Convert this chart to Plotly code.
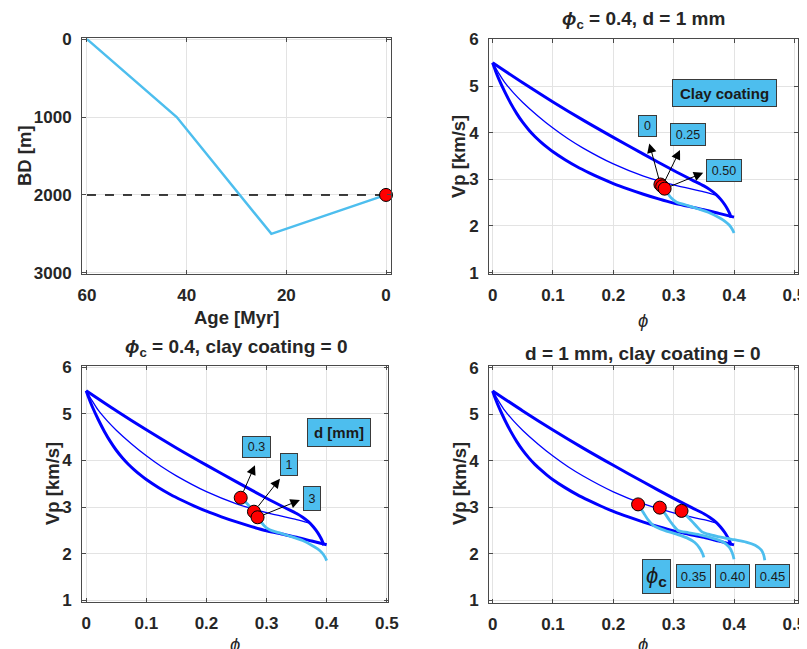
import plotly.graph_objects as go

# The page body has an 8px margin, so the figure is sized to the remaining viewport
OFF = 8
W, H = 807 - OFF, 649 - OFF
FONT = "Liberation Sans"
TXT = "#262626"
CYAN = "#4DBEEE"
BLUE = "#0000FF"

# ---------------- Panel 1: burial history ----------------
age = [60, 42, 23, 0]
bd = [0, 1000, 2500, 2000]
ref_age = [60, 0]
ref_bd = [2000, 2000]
now_age = [0]
now_bd = [2000]
age_ticks = [0, 20, 40, 60]
age_ticktext = ["0", "20", "40", "60"]
bd_ticks = [0, 1000, 2000, 3000]
bd_ticktext = ["0", "1000", "2000", "3000"]

# ---------------- Rock-physics bounds (shared) ----------------
phi_upper = [0, 0.05, 0.1, 0.15, 0.2, 0.25, 0.3, 0.33, 0.35, 0.36, 0.37, 0.378, 0.385, 0.39, 0.393, 0.395]
vp_upper = [5.5, 5.07, 4.66, 4.27, 3.90, 3.54, 3.19, 2.99, 2.86, 2.78, 2.68, 2.57, 2.45, 2.34, 2.26, 2.18]

phi_lower = [0, 0.005, 0.01, 0.02, 0.03, 0.04, 0.05, 0.06, 0.07, 0.08, 0.09, 0.1, 0.12, 0.14, 0.16,
             0.18, 0.2, 0.225, 0.25, 0.275, 0.3, 0.325, 0.35, 0.375, 0.4]
vp_lower = [5.5, 5.32, 5.16, 4.88, 4.63, 4.41, 4.22, 4.06, 3.92, 3.80, 3.69, 3.59, 3.42, 3.27, 3.14,
            3.02, 2.91, 2.79, 2.68, 2.58, 2.49, 2.42, 2.35, 2.27, 2.19]

phi_mid = [0, 0.005, 0.01, 0.02, 0.035, 0.05, 0.075, 0.1, 0.125, 0.15, 0.2, 0.25, 0.3, 0.35, 0.37]
vp_mid = [5.5, 5.39, 5.28, 5.08, 4.85, 4.65, 4.36, 4.1, 3.87, 3.67, 3.33, 3.07, 2.88, 2.73, 2.66]

# ---------------- Panel 2: clay coating ----------------
clay_labels = ["0", "0.25", "0.50"]
clay_phi = [0.278, 0.281, 0.285]
clay_vp = [2.89, 2.85, 2.80]
cyan2_phi = [0.285, 0.29, 0.296, 0.305, 0.32, 0.34, 0.36, 0.375, 0.385, 0.392, 0.397, 0.4]
cyan2_vp = [2.80, 2.70, 2.60, 2.51, 2.45, 2.37, 2.28, 2.18, 2.10, 2.02, 1.93, 1.85]

# ---------------- Panel 3: grain size ----------------
d_labels = ["0.3", "1", "3"]
d_phi = [0.257, 0.279, 0.285]
d_vp = [3.20, 2.90, 2.78]
cyan3_phi = [0.257, 0.267, 0.275, 0.279, 0.285, 0.29, 0.296, 0.305, 0.32, 0.34, 0.36, 0.375, 0.385, 0.392, 0.397, 0.4]
cyan3_vp = [3.20, 3.08, 2.96, 2.90, 2.80, 2.70, 2.60, 2.51, 2.45, 2.37, 2.28, 2.18, 2.10, 2.02, 1.93, 1.85]

# ---------------- Panel 4: critical porosity ----------------
phic_labels = ["0.35", "0.40", "0.45"]
phic_phi = [0.241, 0.277, 0.313]
phic_vp = [3.06, 2.99, 2.92]
c35_phi = [0.241, 0.25, 0.258, 0.266, 0.285, 0.305, 0.322, 0.335, 0.343, 0.348, 0.350]
c35_vp = [3.06, 2.88, 2.72, 2.61, 2.50, 2.42, 2.34, 2.24, 2.12, 2.00, 1.92]
c40_phi = [0.277, 0.285, 0.293, 0.30, 0.307, 0.325, 0.345, 0.365, 0.382, 0.392, 0.397, 0.40]
c40_vp = [2.99, 2.87, 2.72, 2.60, 2.50, 2.45, 2.40, 2.33, 2.25, 2.14, 2.02, 1.88]
c45_phi = [0.313, 0.32, 0.33, 0.34, 0.347, 0.36, 0.38, 0.40, 0.42, 0.435, 0.445, 0.449, 0.451]
c45_vp = [2.92, 2.83, 2.70, 2.56, 2.47, 2.41, 2.35, 2.30, 2.25, 2.18, 2.08, 1.98, 1.86]

phi_ticks = [0, 0.1, 0.2, 0.3, 0.4, 0.5]
phi_ticktext = ["0", "0.1", "0.2", "0.3", "0.4", "0.5"]
vp_ticks = [1, 2, 3, 4, 5, 6]
vp_ticktext = ["1", "2", "3", "4", "5", "6"]


def px(x):
    return (x - OFF) / W


def py(y):
    return 1 - (y - OFF) / H


def bold(lst):
    return [f"<b>{t}</b>" for t in lst]


fig = go.Figure()

# Panel 1
fig.add_trace(go.Scatter(x=ref_age, y=ref_bd, mode="lines", line=dict(color="black", width=1.5, dash="dash"),
                         xaxis="x", yaxis="y"))
fig.add_trace(go.Scatter(x=age, y=bd, mode="lines", line=dict(color=CYAN, width=2.5), xaxis="x", yaxis="y"))
fig.add_trace(go.Scatter(x=now_age, y=now_bd, mode="markers", cliponaxis=False,
                         marker=dict(color="red", size=13, line=dict(color="black", width=1)),
                         xaxis="x", yaxis="y"))

SPL = dict(shape="spline", smoothing=0.8)


def add_bounds(xa, ya):
    fig.add_trace(go.Scatter(x=phi_lower, y=vp_lower, mode="lines", line=dict(color=BLUE, width=3, **SPL),
                             xaxis=xa, yaxis=ya))
    fig.add_trace(go.Scatter(x=phi_upper, y=vp_upper, mode="lines", line=dict(color=BLUE, width=3, **SPL),
                             xaxis=xa, yaxis=ya))
    fig.add_trace(go.Scatter(x=phi_mid, y=vp_mid, mode="lines", line=dict(color=BLUE, width=1.3, **SPL),
                             xaxis=xa, yaxis=ya))


def add_cyan(xs, ys, xa, ya):
    fig.add_trace(go.Scatter(x=xs, y=ys, mode="lines", line=dict(color=CYAN, width=2.8, **SPL),
                             xaxis=xa, yaxis=ya))


def add_markers(xs, ys, xa, ya):
    fig.add_trace(go.Scatter(x=xs, y=ys, mode="markers",
                             marker=dict(color="red", size=13, line=dict(color="black", width=1)),
                             xaxis=xa, yaxis=ya))


# Panel 2
add_bounds("x2", "y2")
add_cyan(cyan2_phi, cyan2_vp, "x2", "y2")
add_markers(clay_phi, clay_vp, "x2", "y2")
# Panel 3
add_bounds("x3", "y3")
add_cyan(cyan3_phi, cyan3_vp, "x3", "y3")
add_markers(d_phi, d_vp, "x3", "y3")
# Panel 4
add_bounds("x4", "y4")
add_cyan(c35_phi, c35_vp, "x4", "y4")
add_cyan(c40_phi, c40_vp, "x4", "y4")
add_cyan(c45_phi, c45_vp, "x4", "y4")
add_markers(phic_phi, phic_vp, "x4", "y4")

tickfont = dict(family=FONT, size=17, color=TXT)


def axis_common():
    return dict(showline=True, mirror="allticks", linecolor="#4A4A4A", linewidth=1,
                ticks="inside", ticklen=4, tickcolor="#4A4A4A", showgrid=True,
                gridcolor="#E3E3E3", gridwidth=1, zeroline=False, tickfont=tickfont,
                ticklabelstandoff=6, automargin=False)


boxes = {
    "p1": (82, 391, 38, 274),
    "p2": (489, 798, 39, 274),
    "p3": (82, 388, 366, 602),
    "p4": (489, 798, 366, 603),
}


def dom(b):
    l, r, t, bt = b
    return [px(l), px(r)], [py(bt), py(t)]


dx1, dy1 = dom(boxes["p1"])
dx2, dy2 = dom(boxes["p2"])
dx3, dy3 = dom(boxes["p3"])
dx4, dy4 = dom(boxes["p4"])

PHI_AX = dict(tickvals=phi_ticks, ticktext=bold(phi_ticktext))
VP_AX = dict(tickvals=vp_ticks, ticktext=bold(vp_ticktext))

fig.update_layout(
    width=W, height=H, margin=dict(l=0, r=0, t=0, b=0, pad=0), autosize=False,
    paper_bgcolor="white", plot_bgcolor="white", showlegend=False,
    font=dict(family=FONT, color=TXT),
    xaxis=dict(domain=dx1, anchor="y", range=[61, -1], tickvals=age_ticks, ticktext=bold(age_ticktext),
               **axis_common()),
    yaxis=dict(domain=dy1, anchor="x", range=[3015, -15], tickvals=bd_ticks, ticktext=bold(bd_ticktext),
               **axis_common()),
    xaxis2=dict(domain=dx2, anchor="y2", range=[-0.006, 0.506], **PHI_AX, **axis_common()),
    yaxis2=dict(domain=dy2, anchor="x2", range=[0.97, 6.01], **VP_AX, **axis_common()),
    xaxis3=dict(domain=dx3, anchor="y3", range=[-0.007, 0.502], **PHI_AX, **axis_common()),
    yaxis3=dict(domain=dy3, anchor="x3", range=[0.96, 6.03], **VP_AX, **axis_common()),
    xaxis4=dict(domain=dx4, anchor="y4", range=[-0.006, 0.506], **PHI_AX, **axis_common()),
    yaxis4=dict(domain=dy4, anchor="x4", range=[0.94, 6.035], **VP_AX, **axis_common()),
)

ann = []


def label(text, x, y, size=18.5, angle=0, bold=True):
    t = f"<b>{text}</b>" if bold else text
    ann.append(dict(text=t, x=px(x), y=py(y), xref="paper", yref="paper", showarrow=False,
                    xanchor="center", yanchor="middle", textangle=angle,
                    font=dict(family=FONT, size=size, color=TXT)))


# axis labels
label("BD [m]", 24, 156, angle=-90)
label("Age [Myr]", 236, 318)
label("Vp [km/s]", 458, 156, angle=-90)
label("<i>ϕ</i>", 643, 320, bold=False)
label("Vp [km/s]", 52, 484, angle=-90)
label("<i>ϕ</i>", 235, 644, bold=False)
label("Vp [km/s]", 459, 484, angle=-90)
label("<i>ϕ</i>", 643, 644, bold=False)
# titles
label("<i>ϕ</i><sub>c</sub> = 0.4, d = 1 mm", 643, 20, size=19)
label("<i>ϕ</i><sub>c</sub> = 0.4, clay coating = 0", 236, 348, size=19)
label("d = 1 mm, clay coating = 0", 643, 353, size=19)


def box(text, x, y, w, h, xr, yr, size=12.5, bold=False):
    t = f"<b>{text}</b>" if bold else text
    ann.append(dict(text=t, x=x, y=y, xref=xr, yref=yr, showarrow=False, xanchor="center",
                    yanchor="middle", width=w, height=h, bgcolor=CYAN, bordercolor="#3A3A3A",
                    borderwidth=1, borderpad=0, font=dict(family=FONT, size=size, color="#1A1A1A")))


def arrow(x0, y0, x1, y1, xr, yr):
    ann.append(dict(text="", x=x1, y=y1, ax=x0, ay=y0, xref=xr, yref=yr, axref=xr, ayref=yr,
                    showarrow=True, arrowhead=2, arrowsize=1.9, arrowwidth=1, arrowcolor="black",
                    startstandoff=5))


# Panel 2 annotations
clay_heads = [(0.2596, 3.77), (0.3105, 3.63), (0.349, 3.14)]
clay_box = [(0.256, 4.15, 17, 20), (0.324, 3.97, 34, 21), (0.384, 3.18, 34, 21)]
for i in range(3):
    arrow(clay_phi[i], clay_vp[i], clay_heads[i][0], clay_heads[i][1], "x2", "y2")
    bx, byy, bw, bh = clay_box[i]
    box(clay_labels[i], bx, byy, bw, bh, "x2", "y2")
box("Clay coating", 0.385, 4.86, 103, 26, "x2", "y2", size=15, bold=True)

# Panel 3 annotations
d_heads = [(0.2807, 3.90), (0.3223, 3.61), (0.3555, 3.15)]
d_box = [(0.2827, 4.30, 27, 20), (0.3369, 3.92, 16, 21), (0.3762, 3.19, 16, 23)]
for i in range(3):
    arrow(d_phi[i], d_vp[i], d_heads[i][0], d_heads[i][1], "x3", "y3")
    bx, byy, bw, bh = d_box[i]
    box(d_labels[i], bx, byy, bw, bh, "x3", "y3")
box("d [mm]", 0.420, 4.61, 62, 27, "x3", "y3", size=15, bold=True)

# Panel 4 annotations
box("<i>ϕ</i><sub><b>c</b></sub>", 0.271, 1.52, 27, 33, "x4", "y4", size=22)
phic_box_x = [0.3328, 0.398, 0.4633]
for i in range(3):
    box(phic_labels[i], phic_box_x[i], 1.513, 33, 22, "x4", "y4", size=13)

fig.update_layout(annotations=ann)
fig.write_html("out.html")
